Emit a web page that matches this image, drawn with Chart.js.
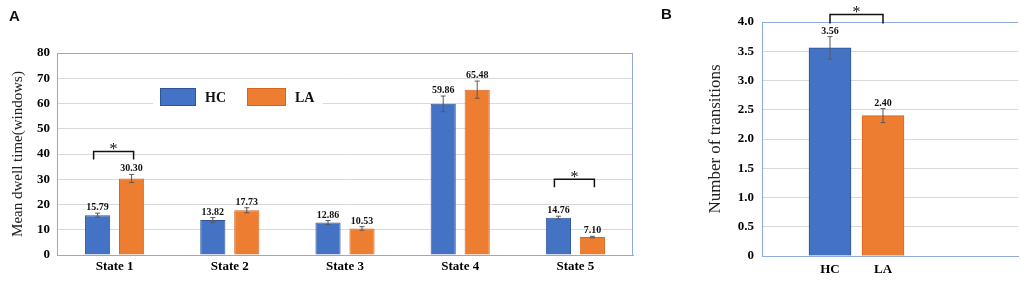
<!DOCTYPE html>
<html>
<head>
<meta charset="utf-8">
<script src="https://cdn.jsdelivr.net/npm/chart.js@4.4.1/dist/chart.umd.min.js"></script>
<style>
  html, body { margin: 0; padding: 0; background: #fff; }
  #wrap { position: relative; width: 1021px; height: 281px; }
  #dwell { position: absolute; left: 0; top: 0; }
  #trans { position: absolute; left: 650px; top: 0; }
</style>
</head>
<body>
<div id="wrap">
  <canvas id="dwell" width="650" height="281"></canvas>
  <canvas id="trans" width="371" height="281"></canvas>
</div>
<script>
// panel A data
const states = ['State 1', 'State 2', 'State 3', 'State 4', 'State 5'];
const dwellHC = [15.79, 13.82, 12.86, 59.86, 14.76];
const dwellLA = [30.30, 17.73, 10.53, 65.48, 7.10];
const dwellErrHC = [0.8, 1.0, 0.8, 3.1, 0.6];
const dwellErrLA = [1.6, 1.0, 0.7, 3.4, 0.3];
const dwellTicks = [0, 10, 20, 30, 40, 50, 60, 70, 80];
const dwellSig = [{ index: 0, level: 41 }, { index: 4, level: 30 }];

// panel B data
const groups = ['HC', 'LA'];
const transitions = [3.56, 2.40];
const transitionsErr = [0.19, 0.12];
const transTicks = [0, 0.5, 1.0, 1.5, 2.0, 2.5, 3.0, 3.5, 4.0];
const transSig = [{ from: 0, to: 1, level: 4.13 }];

const BLUE = '#4472c4';
const ORANGE = '#ed7d31';
const FRAME = '#8eaadb';
const SERIF = '"Liberation Serif", "Times New Roman", serif';

function drawErrorBars(chart) {
  const ctx = chart.ctx;
  const y = chart.scales.y;
  ctx.save();
  chart.data.datasets.forEach((ds, di) => {
    const meta = chart.getDatasetMeta(di);
    meta.data.forEach((bar, i) => {
      const raw = ds.data[i];
      const val = typeof raw === 'object' ? raw.y : raw;
      const e = ds.errors[i];
      const top = y.getPixelForValue(val + e);
      const bot = y.getPixelForValue(val - e);
      ctx.strokeStyle = '#595959';
      ctx.lineWidth = 1;
      ctx.beginPath();
      ctx.moveTo(bar.x, top); ctx.lineTo(bar.x, bot);
      ctx.moveTo(bar.x - 2.5, top); ctx.lineTo(bar.x + 2.5, top);
      ctx.moveTo(bar.x - 2.5, bot); ctx.lineTo(bar.x + 2.5, bot);
      ctx.stroke();
      ctx.fillStyle = '#111';
      ctx.font = 'bold 10px ' + SERIF;
      ctx.textAlign = 'center';
      ctx.textBaseline = 'alphabetic';
      ctx.fillText(val.toFixed(2), bar.x, top - 3);
    });
  });
  ctx.restore();
}

function drawBracket(chart, xa, xb, level, drop) {
  const ctx = chart.ctx;
  const yy = chart.scales.y.getPixelForValue(level);
  ctx.save();
  ctx.strokeStyle = '#111';
  ctx.lineWidth = 1.5;
  ctx.beginPath();
  ctx.moveTo(xa, yy + drop); ctx.lineTo(xa, yy); ctx.lineTo(xb, yy); ctx.lineTo(xb, yy + drop);
  ctx.stroke();
  ctx.fillStyle = '#111';
  ctx.font = '16px ' + SERIF;
  ctx.textAlign = 'center';
  ctx.textBaseline = 'alphabetic';
  ctx.fillText('*', (xa + xb) / 2, yy + 3);
  ctx.restore();
}

function drawFrame(chart, withRight) {
  const ctx = chart.ctx;
  const a = chart.chartArea;
  ctx.save();
  ctx.strokeStyle = FRAME;
  ctx.lineWidth = 1;
  ctx.beginPath();
  ctx.moveTo(a.left, a.top + 0.5); ctx.lineTo(a.right, a.top + 0.5);
  if (withRight) { ctx.moveTo(a.right - 0.5, a.top); ctx.lineTo(a.right - 0.5, a.bottom); }
  ctx.stroke();
  ctx.restore();
}

function drawLetter(chart, text, x, y) {
  const ctx = chart.ctx;
  ctx.save();
  ctx.fillStyle = '#111';
  ctx.font = 'bold 15px "Liberation Sans", Arial, sans-serif';
  ctx.textAlign = 'left';
  ctx.textBaseline = 'alphabetic';
  ctx.fillText(text, x, y);
  ctx.restore();
}

const dwellPlugin = {
  id: 'dwellExtras',
  afterDraw(chart) {
    const ctx = chart.ctx;
    drawFrame(chart, true);
    drawErrorBars(chart);
    // legend inside the plot
    ctx.save();
    ctx.fillStyle = '#fff';
    ctx.fillRect(153, 84, 170, 26);
    const entries = [{ x: 160, w: 36, tx: 205 }, { x: 247, w: 39, tx: 295 }];
    chart.data.datasets.forEach((ds, i) => {
      const e = entries[i];
      ctx.fillStyle = ds.backgroundColor;
      ctx.strokeStyle = ds.borderColor;
      ctx.lineWidth = 1;
      ctx.fillRect(e.x, 88, e.w, 18);
      ctx.strokeRect(e.x + 0.5, 88.5, e.w - 1, 17);
      ctx.fillStyle = '#111';
      ctx.font = 'bold 14px ' + SERIF;
      ctx.textAlign = 'left';
      ctx.textBaseline = 'middle';
      ctx.fillText(ds.label, e.tx, 98);
    });
    ctx.restore();
    dwellSig.forEach(s => {
      const a = chart.getDatasetMeta(0).data[s.index];
      const b = chart.getDatasetMeta(1).data[s.index];
      drawBracket(chart, a.x - 4, b.x + 2, s.level, 8);
    });
    drawLetter(chart, 'A', 9, 21);
  }
};

const transPlugin = {
  id: 'transExtras',
  afterDraw(chart) {
    drawFrame(chart, false);
    drawErrorBars(chart);
    const bars = chart.getDatasetMeta(0).data;
    transSig.forEach(s => drawBracket(chart, bars[s.from].x, bars[s.to].x, s.level, 9));
    drawLetter(chart, 'B', 11, 19);
  }
};

const tickFont = { family: SERIF, size: 13, weight: 'bold' };

new Chart('dwell', {
  type: 'bar',
  data: {
    labels: states,
    datasets: [
      { label: 'HC', data: dwellHC, errors: dwellErrHC, backgroundColor: BLUE, borderColor: '#2f5597', borderWidth: 1 },
      { label: 'LA', data: dwellLA, errors: dwellErrLA, backgroundColor: ORANGE, borderColor: '#d9651c', borderWidth: 1 }
    ]
  },
  options: {
    responsive: false,
    animation: false,
    layout: { padding: { left: 6, top: 53, right: 17, bottom: 0 } },
    datasets: { bar: { categoryPercentage: 0.59, barPercentage: 0.74 } },
    plugins: { legend: { display: false }, tooltip: { enabled: false } },
    scales: {
      x: {
        grid: { display: false, drawTicks: false },
        border: { color: FRAME, width: 1 },
        ticks: { color: '#000', font: tickFont, padding: 4 },
        afterFit: s => { s.height = 26; }
      },
      y: {
        min: 0, max: 80,
        afterBuildTicks: s => { s.ticks = dwellTicks.map(v => ({ value: v })); },
        grid: { color: '#d9d9d9', drawTicks: false },
        border: { color: FRAME, width: 1 },
        ticks: { color: '#000', font: tickFont, padding: 7 },
        title: { display: true, text: 'Mean dwell time(windows)', color: '#222', font: { family: SERIF, size: 15 }, padding: 3 },
        afterFit: s => { s.width = 51; }
      }
    }
  },
  plugins: [dwellPlugin]
});

new Chart('trans', {
  type: 'bar',
  data: {
    datasets: [{
      label: 'Transitions',
      data: transitions.map((v, i) => ({ x: i, y: v })),
      errors: transitionsErr,
      backgroundColor: [BLUE, ORANGE],
      borderColor: ['#2f5597', '#d9651c'],
      borderWidth: 1,
      barThickness: 42
    }]
  },
  options: {
    responsive: false,
    animation: false,
    layout: { padding: { left: 52, top: 22, right: 3, bottom: 0 } },
    plugins: { legend: { display: false }, tooltip: { enabled: false } },
    scales: {
      x: {
        type: 'linear',
        offset: false,
        bounds: 'data',
        min: -1.283, max: 3.547,
        afterBuildTicks: s => { s.ticks = groups.map((g, i) => ({ value: i })); },
        grid: { display: false, offset: false, drawTicks: false },
        border: { color: FRAME, width: 1 },
        ticks: { color: '#000', font: tickFont, padding: 6, callback: v => groups[v] },
        afterFit: s => { s.height = 25; }
      },
      y: {
        min: 0, max: 4,
        afterBuildTicks: s => { s.ticks = transTicks.map(v => ({ value: v })); },
        grid: { color: '#d9d9d9', drawTicks: false },
        border: { color: FRAME, width: 1 },
        ticks: { color: '#000', font: tickFont, padding: 8, callback: v => v === 0 ? '0' : v.toFixed(1) },
        title: { display: true, text: 'Number of transitions', color: '#222', font: { family: SERIF, size: 17 }, padding: 3 },
        afterFit: s => { s.width = 60; }
      }
    }
  },
  plugins: [transPlugin]
});
</script>
</body>
</html>
